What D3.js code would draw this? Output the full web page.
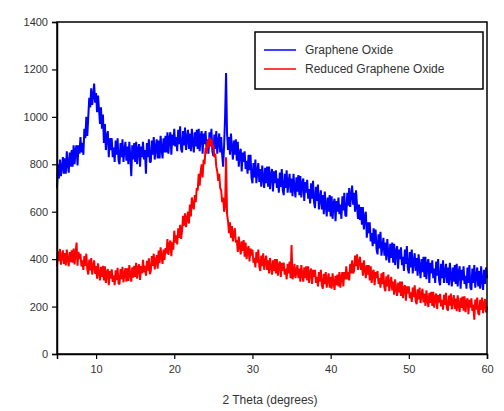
<!DOCTYPE html>
<html>
<head>
<meta charset="utf-8">
<script src="https://cdn.jsdelivr.net/npm/d3@7"></script>
<style>
  html, body { margin: 0; padding: 0; background: #fff; }
  svg { display: block; }
  text { font-family: "Liberation Sans", Arial, sans-serif; }
</style>
</head>
<body>
<svg id="chart" width="504" height="411"></svg>
<script>
// XRD scan: intensity (counts) sampled every 0.125 degrees of 2θ, from 5 to 60.
// One row per degree (8 readings each).
const twoThetaStart = 5;
const twoThetaStep = 0.125;

const seriesNames = ["Graphene Oxide", "Reduced Graphene Oxide"];

const grapheneOxide = [
  700, 800, 740, 820, 750, 785, 830, 760,      // 5
  825, 760, 855, 800, 765, 850, 790, 860,      // 6
  790, 880, 800, 860, 880, 795, 880, 845,      // 7
  915, 850, 890, 840, 950, 910, 1000, 920,     // 8
  1000, 1080, 1040, 1120, 1050, 1090, 1140, 1060, // 9
  1100, 1020, 1090, 1030, 970, 1040, 950, 1010,   // 10
  890, 970, 860, 920, 940, 830, 910, 860,      // 11
  910, 830, 870, 810, 900, 840, 910, 815,      // 12
  800, 890, 830, 905, 810, 860, 895, 815,      // 13
  875, 800, 895, 835, 750, 880, 820, 890,      // 14
  810, 895, 800, 865, 885, 790, 875, 830,      // 15
  895, 820, 860, 760, 890, 830, 905, 810,      // 16
  810, 900, 840, 915, 820, 870, 905, 825,      // 17
  900, 825, 920, 865, 825, 910, 850, 920,      // 18
  850, 935, 845, 910, 935, 840, 925, 880,      // 19
  950, 875, 915, 855, 945, 885, 960, 865,      // 20
  850, 940, 880, 955, 860, 910, 945, 865,      // 21
  930, 855, 950, 890, 850, 935, 875, 945,      // 22
  865, 950, 855, 920, 940, 845, 930, 885,      // 23
  940, 865, 905, 845, 935, 875, 950, 855,      // 24
  835, 925, 865, 940, 845, 895, 930, 850,      // 25
  915, 840, 790, 880, 1000, 1185, 930, 860,    // 26
  915, 840, 930, 870, 820, 900, 840, 905,      // 27
  815, 895, 790, 850, 865, 770, 850, 810,      // 28
  855, 780, 815, 760, 840, 775, 840, 745,      // 29
  720, 805, 745, 820, 720, 770, 805, 725,      // 30
  780, 705, 795, 740, 700, 785, 720, 790,      // 31
  705, 790, 695, 755, 780, 685, 770, 720,      // 32
  775, 700, 740, 680, 765, 705, 780, 690,      // 33
  670, 760, 700, 775, 680, 725, 760, 680,      // 34
  740, 665, 760, 700, 660, 745, 685, 755,      // 35
  670, 750, 660, 720, 740, 645, 725, 680,      // 36
  735, 655, 695, 635, 720, 655, 730, 640,      // 37
  615, 705, 645, 715, 610, 655, 690, 610,      // 38
  670, 590, 685, 625, 580, 660, 600, 670,      // 39
  580, 665, 570, 635, 655, 560, 645, 600,      // 40
  660, 590, 630, 570, 665, 605, 680, 585,      // 41
  580, 680, 625, 700, 620, 670, 710, 630,      // 42
  680, 600, 690, 625, 570, 630, 565, 620,      // 43
  545, 620, 525, 580, 600, 490, 555, 510,      // 44
  555, 475, 510, 455, 530, 465, 525, 440,      // 45
  420, 505, 445, 515, 415, 455, 490, 415,      // 46
  470, 395, 485, 425, 385, 465, 405, 470,      // 47
  385, 465, 375, 435, 455, 360, 440, 400,      // 48
  450, 375, 410, 350, 440, 380, 455, 360,      // 49
  340, 430, 365, 440, 340, 390, 425, 350,      // 50
  405, 330, 420, 365, 320, 400, 345, 410,      // 51
  325, 410, 315, 380, 400, 300, 385, 340,      // 52
  395, 320, 360, 300, 390, 330, 400, 310,      // 53
  290, 380, 320, 395, 300, 345, 380, 300,      // 54
  365, 290, 385, 325, 285, 365, 305, 375,      // 55
  295, 380, 285, 345, 370, 275, 355, 310,      // 56
  370, 295, 330, 275, 365, 300, 375, 280,      // 57
  270, 360, 300, 375, 280, 330, 365, 285,      // 58
  350, 275, 370, 310, 270, 355, 295, 365,      // 59
  320                                          // 60
];

const reducedGrapheneOxide = [
  370, 433, 391, 443, 377, 412, 437, 380,      // 5
  426, 373, 440, 398, 370, 430, 387, 437,      // 6
  385, 445, 378, 424, 470, 372, 431, 400,      // 7
  422, 369, 395, 355, 413, 371, 423, 357,      // 8
  335, 398, 353, 405, 335, 370, 395, 338,      // 9
  371, 318, 382, 340, 310, 368, 325, 372,      // 10
  310, 370, 300, 345, 358, 290, 350, 318,      // 11
  357, 304, 332, 290, 353, 311, 363, 297,      // 12
  295, 358, 316, 368, 302, 337, 362, 305,      // 13
  361, 308, 375, 333, 305, 365, 322, 372,      // 14
  325, 385, 318, 364, 378, 312, 371, 340,      // 15
  397, 344, 372, 330, 393, 351, 403, 337,      // 16
  350, 413, 371, 423, 357, 392, 417, 360,      // 17
  436, 383, 450, 408, 380, 440, 397, 447,      // 18
  425, 485, 418, 464, 478, 412, 471, 440,      // 19
  520, 470, 500, 462, 530, 490, 545, 485,      // 20
  520, 583, 541, 593, 535, 570, 600, 550,      // 21
  630, 580, 660, 625, 610, 670, 640, 700,      // 22
  690, 760, 710, 770, 800, 745, 820, 800,      // 23
  870, 845, 900, 870, 915, 880, 905, 870,      // 24
  880, 830, 845, 790, 770, 730, 760, 700,      // 25
  690, 640, 660, 600, 620, 830, 590, 560,      // 26
  510, 555, 490, 540, 475, 510, 530, 470,      // 27
  480, 430, 495, 455, 420, 475, 435, 480,      // 28
  410, 470, 400, 440, 455, 390, 445, 415,      // 29
  440, 385, 405, 365, 430, 385, 440, 370,      // 30
  350, 415, 370, 425, 355, 390, 415, 355,      // 31
  395, 340, 405, 365, 335, 395, 350, 400,      // 32
  340, 400, 330, 375, 390, 325, 385, 350,      // 33
  385, 335, 360, 315, 380, 340, 390, 320,      // 34
  460, 315, 335, 380, 320, 350, 375, 320,      // 35
  360, 305, 375, 335, 305, 365, 320, 370,      // 36
  310, 370, 300, 345, 360, 295, 355, 325,      // 37
  355, 300, 325, 285, 345, 305, 355, 290,      // 38
  275, 338, 295, 345, 280, 315, 340, 280,      // 39
  325, 275, 340, 300, 270, 330, 290, 335,      // 40
  285, 345, 280, 325, 345, 285, 345, 315,      // 41
  370, 315, 345, 310, 380, 340, 395, 340,      // 42
  350, 415, 370, 420, 355, 385, 410, 355,      // 43
  385, 330, 395, 355, 320, 375, 335, 375,      // 44
  310, 370, 300, 345, 355, 290, 345, 320,      // 45
  350, 295, 320, 280, 340, 295, 345, 280,      // 46
  265, 328, 285, 335, 265, 300, 325, 268,      // 47
  305, 250, 315, 275, 245, 300, 260, 305,      // 48
  245, 305, 235, 280, 290, 225, 285, 255,      // 49
  285, 235, 260, 220, 280, 240, 290, 225,      // 50
  210, 273, 230, 280, 215, 250, 275, 218,      // 51
  255, 203, 268, 228, 198, 258, 215, 262,      // 52
  203, 262, 195, 240, 255, 190, 248, 217,      // 53
  254, 201, 228, 187, 250, 207, 258, 192,      // 54
  183, 246, 204, 255, 188, 223, 248, 190,      // 55
  234, 181, 247, 207, 177, 237, 194, 242,      // 56
  183, 243, 176, 221, 235, 168, 228, 196,      // 57
  235, 182, 208, 145, 230, 187, 238, 172,      // 58
  165, 228, 186, 238, 172, 207, 232, 175,      // 59
  200                                          // 60
];

const xTicks = [10, 20, 30, 40, 50, 60];
const yTicks = [0, 200, 400, 600, 800, 1000, 1200, 1400];
const xTitle = "2 Theta (degrees)";
const seriesColors = ["#0000ff", "#ff0000"];

const svg = d3.select("#chart");
const margin = { left: 57, right: 17, top: 22, bottom: 57 };
const W = 504, H = 411;

const x = d3.scaleLinear().domain([5, 60]).range([margin.left, W - margin.right]);
const y = d3.scaleLinear().domain([0, 1400]).range([H - margin.bottom, margin.top]);

const toPoints = vals => vals.map((v, i) => [twoThetaStart + i * twoThetaStep, v]);
const line = d3.line().x(d => x(d[0])).y(d => y(d[1]));

const plot = svg.append("g");
[grapheneOxide, reducedGrapheneOxide].forEach((vals, k) => {
  plot.append("path")
    .datum(toPoints(vals))
    .attr("fill", "none")
    .attr("stroke", seriesColors[k])
    .attr("stroke-width", 2)
    .attr("stroke-linejoin", "bevel")
    .attr("d", line);
});

// Frame around the plot area
svg.append("rect")
  .attr("x", x(5)).attr("y", y(1400))
  .attr("width", x(60) - x(5)).attr("height", y(0) - y(1400))
  .attr("fill", "none").attr("stroke", "#000").attr("stroke-width", 1.5);

const yAxis = svg.append("g")
  .attr("transform", `translate(${x(5)},0)`)
  .call(d3.axisLeft(y).tickValues(yTicks).tickSize(5).tickPadding(4).tickFormat(d3.format("d")));
const xAxis = svg.append("g")
  .attr("transform", `translate(0,${y(0)})`)
  .call(d3.axisBottom(x).tickValues(xTicks).tickSize(5).tickPadding(6).tickFormat(d3.format("d")));

[yAxis, xAxis].forEach(g => {
  g.select(".domain").attr("stroke", "#000").attr("stroke-width", 1.5);
  g.selectAll(".tick line").attr("stroke", "#000").attr("stroke-width", 1.2);
  g.selectAll(".tick text").attr("fill", "#333").style("font-size", "11px")
    .style("font-family", "'Liberation Sans', Arial, sans-serif");
});

svg.append("text")
  .attr("x", (x(5) + x(60)) / 2 - 2)
  .attr("y", 404)
  .attr("text-anchor", "middle")
  .attr("fill", "#333")
  .style("font-size", "12px")
  .text(xTitle);

// Legend
const legend = svg.append("g");
legend.append("rect")
  .attr("x", 255).attr("y", 32).attr("width", 228).attr("height", 57)
  .attr("fill", "#fff").attr("stroke", "#000").attr("stroke-width", 1.5);
seriesNames.forEach((name, k) => {
  const ly = 50 + k * 19;
  legend.append("line")
    .attr("x1", 264).attr("x2", 296).attr("y1", ly).attr("y2", ly)
    .attr("stroke", seriesColors[k]).attr("stroke-width", 1.5);
  legend.append("text")
    .attr("x", 305).attr("y", ly + 4)
    .attr("fill", "#333")
    .style("font-size", "12px")
    .text(name);
});
</script>
</body>
</html>
